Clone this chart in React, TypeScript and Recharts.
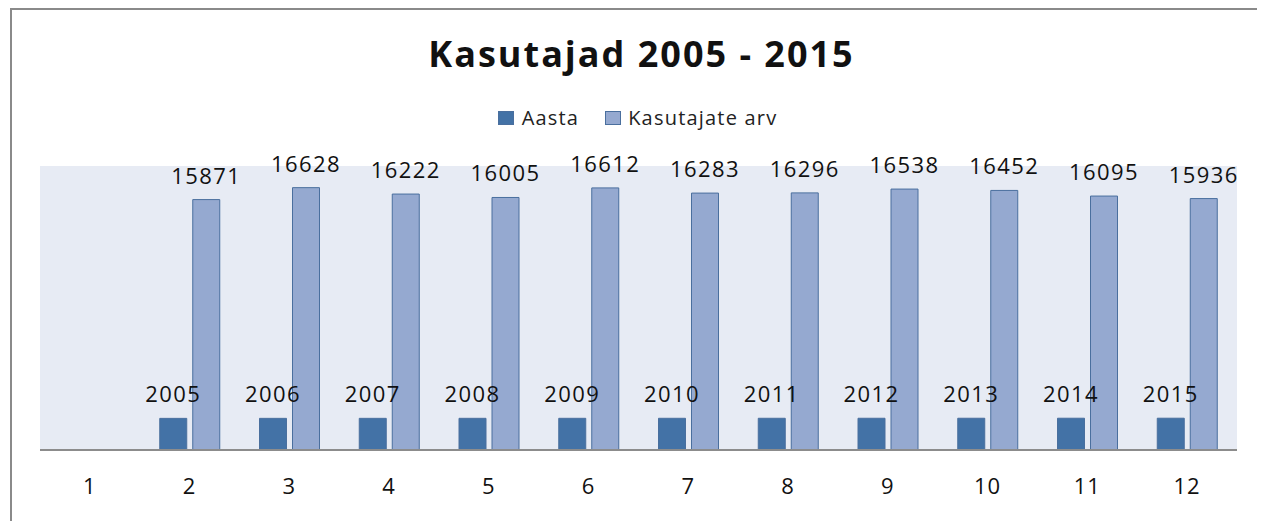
import React from 'react'
import { BarChart, Bar, XAxis, YAxis, LabelList } from 'recharts'

const categories = ['1', '2', '3', '4', '5', '6', '7', '8', '9', '10', '11', '12']
const aasta = [null, 2005, 2006, 2007, 2008, 2009, 2010, 2011, 2012, 2013, 2014, 2015]
const kasutajateArv = [null, 15871, 16628, 16222, 16005, 16612, 16283, 16296, 16538, 16452, 16095, 15936]

const data = categories.map((c, i) => ({ name: c, aasta: aasta[i], arv: kasutajateArv[i] }))

const FONT = '"Open Sans", Calibri, sans-serif'
const DARK = '#4372a6'
const LIGHT = '#95a9d0'
const EDGE = '#4a6f9e'

// legend drawn as html so it does not push the plot area down
const LegendBox = () => (
    <div style={{ position: 'absolute', left: 0, top: 96, width: 1257, paddingLeft: 2, boxSizing: 'border-box', display: 'flex', justifyContent: 'center', alignItems: 'center', fontFamily: FONT, fontSize: 20, letterSpacing: 1.2, color: '#222' }}>
        <span style={{ width: 14, height: 12, background: DARK, border: `1px solid ${EDGE}`, marginRight: 8 }} />
        <span style={{ marginRight: 26 }}>Aasta</span>
        <span style={{ width: 14, height: 12, background: LIGHT, border: `1px solid ${EDGE}`, marginRight: 7 }} />
        <span>Kasutajate arv</span>
    </div>
)

const App: React.FC = () => {
    return (
        <div style={{ position: 'relative', width: 1257, height: 513, overflow: 'hidden', background: '#fff' }}>
            <div style={{ position: 'absolute', left: 2, top: 0, width: 1300, height: 600, borderLeft: '2px solid #8a8a8a', borderTop: '2px solid #8a8a8a' }} />
            <div style={{ position: 'absolute', left: 0, top: 21, width: 1257, textAlign: 'center', fontFamily: FONT, fontWeight: 700, fontSize: 36, letterSpacing: 2, color: '#111', paddingLeft: 10, boxSizing: 'border-box' }}>
                Kasutajad 2005 - 2015
            </div>
            <LegendBox />
            <BarChart
                width={1257}
                height={513}
                data={data}
                margin={{ top: 158, right: 28, bottom: 21, left: 32 }}
                barCategoryGap={20}
                barGap={6}
                style={{ position: 'absolute', left: 0, top: 0 }}
            >
                <rect x={32} y={158} width={1197} height={284} fill="#e7ebf4" />
                <YAxis hide domain={[0, 18000]} allowDataOverflow />
                <XAxis
                    dataKey="name"
                    height={50}
                    tickLine={false}
                    tickSize={0}
                    tickMargin={28}
                    axisLine={{ stroke: '#8c8c8c', strokeWidth: 2 }}
                    tick={{ fill: '#111', fontSize: 22, fontFamily: FONT, letterSpacing: 1 }}
                    interval={0}
                />
                <Bar dataKey="aasta" name="Aasta" fill={DARK} stroke={EDGE} strokeWidth={1} isAnimationActive={false}>
                    <LabelList dataKey="aasta" position="top" offset={16} fill="#111" fontSize={22} fontFamily={FONT} letterSpacing={1.4} />
                </Bar>
                <Bar dataKey="arv" name="Kasutajate arv" fill={LIGHT} stroke={EDGE} strokeWidth={1} isAnimationActive={false}>
                    <LabelList dataKey="arv" position="top" offset={16} fill="#111" fontSize={22} fontFamily={FONT} letterSpacing={1.4} />
                </Bar>
            </BarChart>
        </div>
    )
}

export default App
